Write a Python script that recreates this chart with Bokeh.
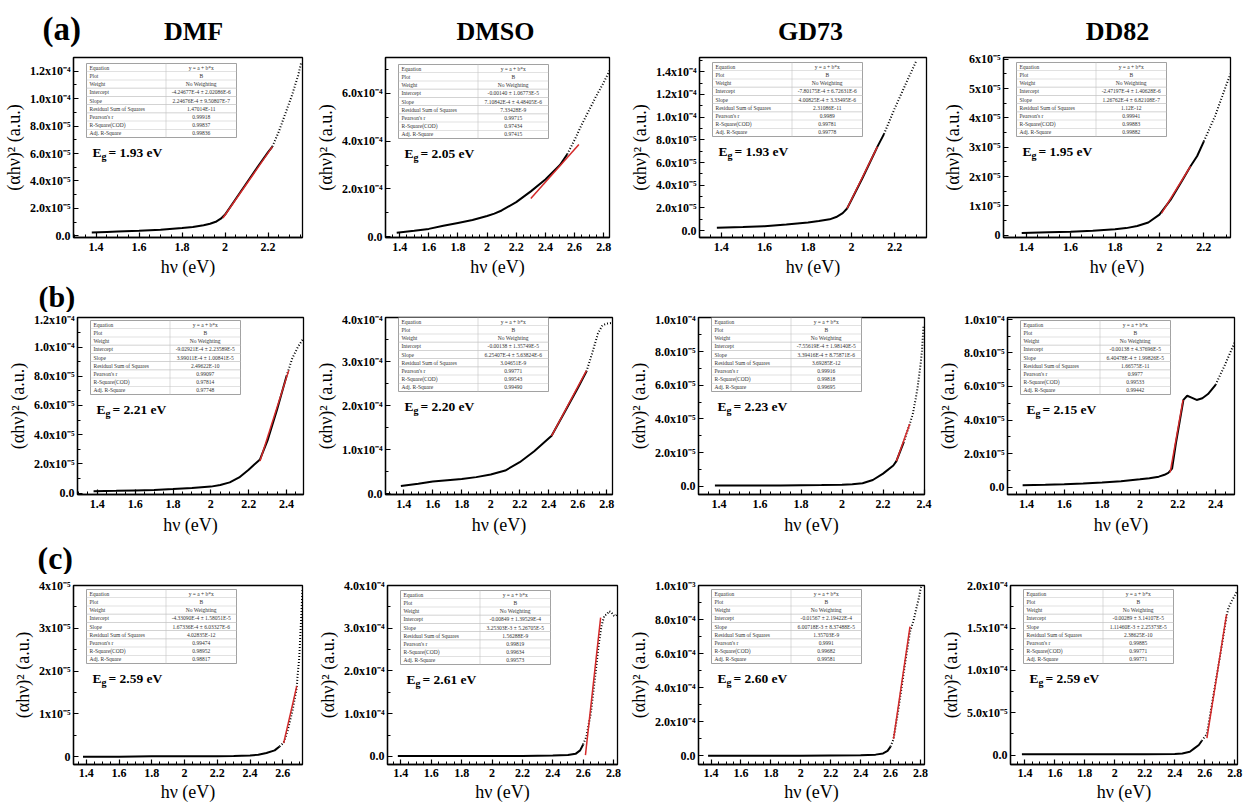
from bokeh.plotting import figure
from bokeh.layouts import column, row
from bokeh.models import (Range1d, FixedTicker, CustomJSTickFormatter, Label,
                          BoxAnnotation, ColumnDataSource)
from bokeh.embed import file_html
from bokeh.resources import INLINE

SERIF = "Liberation Serif"

solvents = ["DMF", "DMSO", "GD73", "DD82"]
panel_tags = ["(a)", "(b)", "(c)"]
x_ticks = [1.4, 1.6, 1.8, 2.0, 2.2, 2.4, 2.6, 2.8]
table_rows = ["Equation", "Plot", "Weight", "Intercept", "Slope",
              "Residual Sum of Squares", "Pearson's r", "R-Square(COD)", "Adj. R-Square"]

# ---------------- row (a) ----------------
a_dmf_x = [1.38, 1.45, 1.50, 1.60, 1.70, 1.80, 1.85, 1.90, 1.93, 1.96, 1.98, 2.00, 2.05, 2.10,
           2.15, 2.20, 2.22, 2.25, 2.28, 2.31, 2.34, 2.355]
a_dmf_y = [2.4e-6, 2.8e-6, 3.1e-6, 3.7e-6, 4.5e-6, 5.7e-6, 6.5e-6, 7.7e-6, 8.8e-6, 1.05e-5,
           1.25e-5, 1.55e-5, 2.70e-5, 3.85e-5, 5.00e-5, 6.10e-5, 6.50e-5, 7.60e-5, 8.90e-5,
           1.02e-4, 1.17e-4, 1.27e-4]
a_dmf_fit_x = [1.99, 2.22]
a_dmf_fit_y = [1.3e-5, 6.5e-5]
a_dmf_yticks = [0, 2e-5, 4e-5, 6e-5, 8e-5, 1.0e-4, 1.2e-4]
a_dmf_table = ["y = a + b*x", "B", "No Weighting", "-4.24677E-4 \u00b1 2.02086E-6",
               "2.24676E-4 \u00b1 9.50807E-7", "1.47014E-11", "0.99918", "0.99837", "0.99836"]

a_dmso_x = [1.38, 1.50, 1.60, 1.70, 1.80, 1.90, 2.00, 2.05, 2.10, 2.20, 2.30, 2.40, 2.50, 2.55,
            2.60, 2.65, 2.70, 2.75, 2.80, 2.84]
a_dmso_y = [1.7e-5, 2.5e-5, 3.3e-5, 4.6e-5, 5.8e-5, 7.0e-5, 8.7e-5, 9.7e-5, 1.10e-4, 1.45e-4,
            1.90e-4, 2.40e-4, 3.00e-4, 3.45e-4, 4.05e-4, 4.70e-4, 5.30e-4, 5.90e-4, 6.45e-4, 6.95e-4]
a_dmso_fit_x = [2.30, 2.63]
a_dmso_fit_y = [1.6e-4, 3.86e-4]
a_dmso_yticks = [0, 2e-4, 4e-4, 6e-4]
a_dmso_table = ["y = a + b*x", "B", "No Weighting", "-0.00140 \u00b1 1.06773E-5",
                "7.10842E-4 \u00b1 4.48405E-6", "7.33428E-9", "0.99715", "0.97434", "0.97415"]

a_gd73_x = [1.38, 1.50, 1.60, 1.70, 1.80, 1.85, 1.90, 1.93, 1.96, 1.98, 2.00, 2.05, 2.10, 2.12,
            2.15, 2.20, 2.25, 2.30]
a_gd73_y = [2.5e-6, 3.2e-6, 4.0e-6, 5.5e-6, 7.3e-6, 8.5e-6, 1.0e-5, 1.2e-5, 1.55e-5, 1.95e-5,
            2.7e-5, 4.6e-5, 6.6e-5, 7.4e-5, 8.5e-5, 1.08e-4, 1.29e-4, 1.50e-4]
a_gd73_fit_x = [1.98, 2.12]
a_gd73_fit_y = [1.95e-5, 7.4e-5]
a_gd73_yticks = [0, 2e-5, 4e-5, 6e-5, 8e-5, 1.0e-4, 1.2e-4, 1.4e-4]
a_gd73_table = ["y = a + b*x", "B", "No Weighting", "-7.80175E-4 \u00b1 6.72631E-6",
                "4.00825E-4 \u00b1 3.33495E-6", "2.31086E-11", "0.9989", "0.99781", "0.99778"]

a_dd82_x = [1.38, 1.50, 1.60, 1.70, 1.80, 1.85, 1.90, 1.95, 2.00, 2.05, 2.10, 2.14, 2.17, 2.20,
            2.25, 2.30, 2.32]
a_dd82_y = [7e-7, 1.0e-6, 1.2e-6, 1.5e-6, 2.0e-6, 2.4e-6, 3.1e-6, 4.3e-6, 7.0e-6, 1.2e-5,
            1.83e-5, 2.35e-5, 2.7e-5, 3.2e-5, 4.05e-5, 5.1e-5, 5.5e-5]
a_dd82_fit_x = [2.01, 2.14]
a_dd82_fit_y = [7.5e-6, 2.35e-5]
a_dd82_yticks = [0, 1e-5, 2e-5, 3e-5, 4e-5, 5e-5, 6e-5]
a_dd82_table = ["y = a + b*x", "B", "No Weighting", "-2.47197E-4 \u00b1 1.40628E-6",
                "1.26762E-4 \u00b1 6.82108E-7", "1.12E-12", "0.99941", "0.99883", "0.99882"]

# ---------------- row (b) ----------------
b_dmf_x = [1.38, 1.50, 1.60, 1.70, 1.80, 1.90, 2.00, 2.05, 2.10, 2.15, 2.20, 2.23, 2.26, 2.30,
           2.35, 2.40, 2.43, 2.46, 2.49]
b_dmf_y = [1.3e-6, 1.5e-6, 1.8e-6, 2.1e-6, 2.7e-6, 3.4e-6, 4.4e-6, 5.5e-6, 7.3e-6, 1.07e-5,
           1.6e-5, 1.95e-5, 2.3e-5, 3.6e-5, 5.7e-5, 8.0e-5, 9.2e-5, 1.0e-4, 1.06e-4]
b_dmf_fit_x = [2.26, 2.412]
b_dmf_fit_y = [2.2e-5, 8.4e-5]
b_dmf_yticks = [0, 2e-5, 4e-5, 6e-5, 8e-5, 1.0e-4, 1.2e-4]
b_dmf_table = ["y = a + b*x", "B", "No Weighting", "-9.02921E-4 \u00b1 2.23589E-5",
               "3.99011E-4 \u00b1 1.00841E-5", "2.49622E-10", "0.99097", "0.97814", "0.97748"]

b_dmso_x = [1.38, 1.50, 1.60, 1.70, 1.80, 1.90, 2.00, 2.10, 2.20, 2.30, 2.42, 2.50, 2.60, 2.66,
            2.70, 2.74, 2.77, 2.80, 2.84]
b_dmso_y = [1.8e-5, 2.3e-5, 2.8e-5, 3.1e-5, 3.4e-5, 3.8e-5, 4.4e-5, 5.3e-5, 7.2e-5, 9.7e-5,
            1.32e-4, 1.80e-4, 2.40e-4, 2.78e-4, 3.20e-4, 3.65e-4, 3.83e-4, 3.87e-4, 3.89e-4]
b_dmso_fit_x = [2.42, 2.66]
b_dmso_fit_y = [1.32e-4, 2.80e-4]
b_dmso_yticks = [0, 1e-4, 2e-4, 3e-4, 4e-4]
b_dmso_table = ["y = a + b*x", "B", "No Weighting", "-0.00138 \u00b1 1.35749E-5",
                "6.25407E-4 \u00b1 5.63824E-6", "3.04651E-9", "0.99771", "0.99543", "0.99490"]

b_gd73_x = [1.38, 1.50, 1.60, 1.70, 1.80, 1.90, 2.00, 2.05, 2.10, 2.15, 2.20, 2.25, 2.265, 2.30,
            2.33, 2.345, 2.357, 2.368, 2.376, 2.384, 2.39, 2.397]
b_gd73_y = [6e-7, 6e-7, 6e-7, 6e-7, 7e-7, 8e-7, 1.0e-6, 1.3e-6, 1.9e-6, 3.8e-6, 7.6e-6, 1.24e-5,
            1.5e-5, 2.6e-5, 3.7e-5, 4.3e-5, 5.07e-5, 5.83e-5, 6.6e-5, 7.36e-5, 8.1e-5, 9.5e-5]
b_gd73_fit_x = [2.265, 2.33]
b_gd73_fit_y = [1.5e-5, 3.7e-5]
b_gd73_yticks = [0, 2e-5, 4e-5, 6e-5, 8e-5, 1.0e-4]
b_gd73_table = ["y = a + b*x", "B", "No Weighting", "-7.55619E-4 \u00b1 1.98140E-5",
                "3.39416E-4 \u00b1 8.75871E-6", "3.69285E-12", "0.99916", "0.99818", "0.99695"]

b_dd82_x = [1.38, 1.50, 1.60, 1.70, 1.80, 1.90, 2.00, 2.05, 2.10, 2.13, 2.15, 2.17, 2.19, 2.21,
            2.23, 2.25, 2.27, 2.30, 2.33, 2.36, 2.40, 2.45, 2.50]
b_dd82_y = [1.3e-6, 1.6e-6, 1.9e-6, 2.3e-6, 2.9e-6, 3.7e-6, 4.8e-6, 5.5e-6, 6.4e-6, 7.5e-6,
            8.7e-6, 1.12e-5, 2.6e-5, 3.9e-5, 5.2e-5, 5.45e-5, 5.35e-5, 5.2e-5, 5.3e-5, 5.55e-5,
            6.1e-5, 7.3e-5, 8.6e-5]
b_dd82_fit_x = [2.16, 2.228]
b_dd82_fit_y = [9e-6, 5.2e-5]
b_dd82_yticks = [0, 2e-5, 4e-5, 6e-5, 8e-5, 1.0e-4]
b_dd82_table = ["y = a + b*x", "B", "No Weighting", "-0.00138 \u00b1 4.37696E-5",
                "6.40478E-4 \u00b1 1.99826E-5", "1.66575E-11", "0.9977", "0.99533", "0.99442"]

# ---------------- row (c) ----------------
c_dmf_x = [1.38, 1.60, 1.80, 2.00, 2.20, 2.30, 2.40, 2.45, 2.50, 2.55, 2.58, 2.605, 2.63, 2.66,
           2.685, 2.69, 2.70, 2.705, 2.71, 2.715, 2.72]
c_dmf_y = [0.0, 0.0, 1e-7, 1e-7, 1.5e-7, 2e-7, 3e-7, 5e-7, 9e-7, 1.5e-6, 2.4e-6, 3.3e-6, 6.2e-6,
           1.1e-5, 1.62e-5, 1.9e-5, 2.3e-5, 2.7e-5, 3.1e-5, 3.5e-5, 3.95e-5]
c_dmf_fit_x = [2.605, 2.685]
c_dmf_fit_y = [3.2e-6, 1.65e-5]
c_dmf_yticks = [0, 1e-5, 2e-5, 3e-5, 4e-5]
c_dmf_table = ["y = a + b*x", "B", "No Weighting", "-4.33090E-4 \u00b1 1.58051E-5",
               "1.67336E-4 \u00b1 6.03327E-6", "4.02835E-12", "0.99474", "0.98952", "0.98817"]

c_dmso_x = [1.38, 1.60, 1.80, 2.00, 2.20, 2.40, 2.50, 2.55, 2.58, 2.60, 2.62, 2.65, 2.68, 2.70,
            2.72, 2.74, 2.755, 2.77, 2.785, 2.80, 2.81, 2.826]
c_dmso_y = [1e-6, 1e-6, 1e-6, 1e-6, 1e-6, 2e-6, 3e-6, 6e-6, 1.4e-5, 2.8e-5, 4.5e-5, 1.0e-4,
            1.9e-4, 2.55e-4, 3.05e-4, 3.30e-4, 3.32e-4, 3.40e-4, 3.38e-4, 3.30e-4, 3.28e-4, 3.33e-4]
c_dmso_fit_x = [2.615, 2.715]
c_dmso_fit_y = [3e-6, 3.25e-4]
c_dmso_yticks = [0, 1e-4, 2e-4, 3e-4, 4e-4]
c_dmso_table = ["y = a + b*x", "B", "No Weighting", "-0.00849 \u00b1 1.39529E-4",
                "3.25303E-3 \u00b1 5.26705E-5", "1.56288E-9", "0.99819", "0.99634", "0.99573"]

c_gd73_x = [1.38, 1.60, 1.80, 2.00, 2.20, 2.40, 2.50, 2.55, 2.58, 2.60, 2.62, 2.65, 2.68, 2.70,
            2.73, 2.755, 2.773, 2.79, 2.80, 2.81]
c_gd73_y = [2e-6, 2e-6, 2e-6, 2e-6, 3e-6, 4e-6, 8e-6, 1.5e-5, 3.0e-5, 5.5e-5, 1.0e-4, 2.6e-4,
            4.4e-4, 5.6e-4, 7.3e-4, 8.0e-4, 8.7e-4, 9.3e-4, 9.8e-4, 1.01e-3]
c_gd73_fit_x = [2.62, 2.73]
c_gd73_fit_y = [1.0e-4, 7.6e-4]
c_gd73_yticks = [0, 2e-4, 4e-4, 6e-4, 8e-4, 1e-3]
c_gd73_table = ["y = a + b*x", "B", "No Weighting", "-0.01567 \u00b1 2.19422E-4",
                "6.00718E-3 \u00b1 8.37488E-5", "1.35703E-9", "0.9991", "0.99682", "0.99581"]

c_dd82_x = [1.38, 1.60, 1.80, 2.00, 2.20, 2.40, 2.45, 2.50, 2.53, 2.56, 2.58, 2.60, 2.614, 2.65,
            2.70, 2.745, 2.758, 2.774, 2.796, 2.814]
c_dd82_y = [1e-6, 1e-6, 1e-6, 1e-6, 1e-6, 1.5e-6, 2e-6, 4e-6, 8e-6, 1.2e-5, 1.7e-5, 2.2e-5,
            2.5e-5, 6.3e-5, 1.15e-4, 1.64e-4, 1.74e-4, 1.80e-4, 1.87e-4, 1.93e-4]
c_dd82_fit_x = [2.614, 2.745]
c_dd82_fit_y = [2.0e-5, 1.66e-4]
c_dd82_yticks = [0, 5e-5, 1e-4, 1.5e-4, 2e-4]
c_dd82_table = ["y = a + b*x", "B", "No Weighting", "-0.00289 \u00b1 3.14107E-5",
                "1.11460E-3 \u00b1 2.25373E-5", "2.38625E-10", "0.99885", "0.99771", "0.99771"]

band_gaps = [["1.93", "2.05", "1.93", "1.95"],
             ["2.21", "2.20", "2.23", "2.15"],
             ["2.59", "2.61", "2.60", "2.59"]]

# axis extents and label precision
panels = [
    [dict(x=a_dmf_x, y=a_dmf_y, fx=a_dmf_fit_x, fy=a_dmf_fit_y, yt=a_dmf_yticks, tab=a_dmf_table,
          xr=(1.295, 2.36), yr=(-1.2e-6, 1.30e-4), dig=1, dot=2.22),
     dict(x=a_dmso_x, y=a_dmso_y, fx=a_dmso_fit_x, fy=a_dmso_fit_y, yt=a_dmso_yticks, tab=a_dmso_table,
          xr=(1.303, 2.84), yr=(-3e-6, 7.5e-4), dig=1, dot=2.55),
     dict(x=a_gd73_x, y=a_gd73_y, fx=a_gd73_fit_x, fy=a_gd73_fit_y, yt=a_gd73_yticks, tab=a_gd73_table,
          xr=(1.30, 2.346), yr=(-6e-6, 1.525e-4), dig=1, dot=2.15),
     dict(x=a_dd82_x, y=a_dd82_y, fx=a_dd82_fit_x, fy=a_dd82_fit_y, yt=a_dd82_yticks, tab=a_dd82_table,
          xr=(1.298, 2.32), yr=(-0.8e-6, 6.06e-5), dig=0, dot=2.20)],
    [dict(x=b_dmf_x, y=b_dmf_y, fx=b_dmf_fit_x, fy=b_dmf_fit_y, yt=b_dmf_yticks, tab=b_dmf_table,
          xr=(1.295, 2.49), yr=(-1e-6, 1.202e-4), dig=1, dot=2.40),
     dict(x=b_dmso_x, y=b_dmso_y, fx=b_dmso_fit_x, fy=b_dmso_fit_y, yt=b_dmso_yticks, tab=b_dmso_table,
          xr=(1.274, 2.84), yr=(-1.5e-6, 4.01e-4), dig=1, dot=2.66),
     dict(x=b_gd73_x, y=b_gd73_y, fx=b_gd73_fit_x, fy=b_gd73_fit_y, yt=b_gd73_yticks, tab=b_gd73_table,
          xr=(1.30, 2.402), yr=(-4.8e-6, 1.002e-4), dig=1, dot=2.30),
     dict(x=b_dd82_x, y=b_dd82_y, fx=b_dd82_fit_x, fy=b_dd82_fit_y, yt=b_dd82_yticks, tab=b_dd82_table,
          xr=(1.30, 2.50), yr=(-4.2e-6, 1.01e-4), dig=1, dot=2.40)],
    [dict(x=c_dmf_x, y=c_dmf_y, fx=c_dmf_fit_x, fy=c_dmf_fit_y, yt=c_dmf_yticks, tab=c_dmf_table,
          xr=(1.322, 2.72), yr=(-1.8e-6, 4.002e-5), dig=0, dot=2.58),
     dict(x=c_dmso_x, y=c_dmso_y, fx=c_dmso_fit_x, fy=c_dmso_fit_y, yt=c_dmso_yticks, tab=c_dmso_table,
          xr=(1.312, 2.826), yr=(-1.9e-5, 4.002e-4), dig=1, dot=2.60),
     dict(x=c_gd73_x, y=c_gd73_y, fx=c_gd73_fit_x, fy=c_gd73_fit_y, yt=c_gd73_yticks, tab=c_gd73_table,
          xr=(1.316, 2.827), yr=(-5e-5, 1.002e-3), dig=1, dot=2.60),
     dict(x=c_dd82_x, y=c_dd82_y, fx=c_dd82_fit_x, fy=c_dd82_fit_y, yt=c_dd82_yticks, tab=c_dd82_table,
          xr=(1.304, 2.818), yr=(-1.1e-5, 2.002e-4), dig=1, dot=2.58)],
]

# ---------------- layout geometry (page pixels; the page has no margin) ----------------
col_edges = [0, 312, 625, 933, 1244]
strip_edges = [(0, 50), (279, 312), (540, 574)]
row_edges = [(50, 279), (312, 540), (574, 805)]
frames = [
    [(72, 302, 57, 238), (382, 609, 57, 237), (699, 926, 56, 238), (1003, 1230, 56, 238)],
    [(77, 303, 317, 498), (383, 612, 313, 497), (697, 924, 313, 497), (1007, 1234, 313, 494)],
    [(73, 302, 582, 764), (387, 617, 585, 766), (697, 924, 585, 767), (1010, 1237, 585, 767)],
]
tag_xy = [(42, 28), (38, 295.5), (37, 557)]      # page x of left edge, page y of text middle
tag_size = ["33px", "30px", "32px"]
title_xy = [(193, 31), (495, 31), (810, 31), (1117, 31)]
x_std = [(5, 3), (5, 4), (4, 2)]                 # x tick-label / axis-label standoffs per row

YFMT = r"""
const t = tick;
if (Math.abs(t) < 1e-15) { return digits > 0 ? (0).toFixed(digits) : "0"; }
const sup = {"-": "\u207B", "0": "\u2070", "1": "\u00B9", "2": "\u00B2", "3": "\u00B3",
             "4": "\u2074", "5": "\u2075", "6": "\u2076", "7": "\u2077", "8": "\u2078", "9": "\u2079"};
const e = Math.floor(Math.log10(Math.abs(t)) + 1e-9);
const m = t / Math.pow(10, e);
let s = "";
for (const c of String(e)) { s += sup[c]; }
return m.toFixed(digits) + "x10" + s;
"""


def slabel(p, x, y, text, size, bold=False, align="left", baseline="alphabetic", color="black"):
    p.add_layout(Label(x=x, y=y, x_units="screen", y_units="screen", text=text,
                       text_font=SERIF, text_font_size=size,
                       text_font_style="bold" if bold else "normal",
                       text_align=align, text_baseline=baseline, text_color=color))


def sbox(p, l, r, t, b, fill, line=None, lw=0.8):
    p.add_layout(BoxAnnotation(left=l, right=r, top=t, bottom=b,
                               left_units="screen", right_units="screen",
                               top_units="screen", bottom_units="screen",
                               fill_color=fill, fill_alpha=1.0,
                               line_color=line if line else fill,
                               line_alpha=1.0 if line else 0.0, line_width=lw))


def add_table(p, fh, vals):
    x0, w, h = 13, 150, 74
    ytop = fh - 7
    ybot = ytop - h
    sbox(p, x0, x0 + w, ytop, ybot, "white", "#8a8a8a", 0.8)
    rh = h / len(table_rows)
    xdiv = x0 + 0.53 * w
    for i in range(1, len(table_rows)):
        yy = ytop - i * rh
        sbox(p, x0, x0 + w, yy + 0.3, yy - 0.3, "#c4c4c4")
    sbox(p, xdiv - 0.3, xdiv + 0.3, ytop, ybot, "#c4c4c4")
    for i, (name, val) in enumerate(zip(table_rows, vals)):
        yc = ytop - (i + 0.5) * rh
        slabel(p, x0 + 3, yc, name, "5.5px", baseline="middle", color="#333333")
        slabel(p, (xdiv + x0 + w) / 2, yc, val, "5.5px", align="center", baseline="middle",
               color="#333333")


def header_strip(r):
    top, bot = strip_edges[r]
    h = bot - top
    s = figure(width=col_edges[-1] - col_edges[0], height=h,
               x_range=Range1d(0, 1), y_range=Range1d(0, 1),
               x_axis_type=None, y_axis_type=None, output_backend="svg", toolbar_location=None,
               title=None, min_border=0, min_border_left=0, min_border_right=0,
               min_border_top=0, min_border_bottom=0)
    s.outline_line_color = None
    s.background_fill_color = "white"
    s.border_fill_color = "white"
    s.xgrid.visible = False
    s.ygrid.visible = False
    tx, ty = tag_xy[r]
    slabel(s, tx - col_edges[0], bot - ty, panel_tags[r], tag_size[r], bold=True, baseline="middle")
    if r == 0:
        for name, (cx, my) in zip(solvents, title_xy):
            slabel(s, cx - col_edges[0], bot - my, name, "26px", bold=True, align="center",
                   baseline="middle")
    return s


def build(r, c):
    d = panels[r][c]
    fl, fr, ft, fb = frames[r][c]
    rt, rb = row_edges[r]
    W = col_edges[c + 1] - col_edges[c]
    H = rb - rt
    fw, fh = fr - fl, fb - ft
    p = figure(width=W, height=H, x_range=Range1d(*d["xr"]), y_range=Range1d(*d["yr"]),
               output_backend="svg", toolbar_location=None, title=None,
               min_border_left=fl - col_edges[c], min_border_right=col_edges[c + 1] - fr,
               min_border_top=ft - rt, min_border_bottom=rb - fb,
               x_axis_label="h\u03bd (eV)", y_axis_label="(\u03b1h\u03bd)\u00b2 (a.u.)")
    p.background_fill_color = "white"
    p.border_fill_color = "white"
    p.xgrid.visible = False
    p.ygrid.visible = False
    p.outline_line_color = "black"
    p.outline_line_width = 1.3
    p.outline_line_alpha = 1.0

    yt = d["yt"]
    step = yt[1] - yt[0]
    p.xaxis.ticker = FixedTicker(ticks=x_ticks,
                                 minor_ticks=[round(1.25 + 0.05 * i, 2) for i in range(33)])
    p.yaxis.ticker = FixedTicker(ticks=yt, minor_ticks=[v + step / 2 for v in yt] + [yt[0] - step / 2])
    p.yaxis.formatter = CustomJSTickFormatter(args=dict(digits=d["dig"]), code=YFMT)
    for ax in (p.xaxis[0], p.yaxis[0]):
        ax.major_tick_in = 5
        ax.major_tick_out = 0
        ax.minor_tick_in = 3
        ax.minor_tick_out = 0
        ax.axis_line_width = 1.3
        ax.axis_line_color = "black"
        ax.major_tick_line_color = "black"
        ax.minor_tick_line_color = "black"
        ax.major_tick_line_width = 1.2
        ax.major_label_text_font = SERIF
        ax.major_label_text_font_style = "bold"
        ax.major_label_text_font_size = "12px"
        ax.major_label_text_color = "black"
        ax.axis_label_text_font = SERIF
        ax.axis_label_text_font_style = "normal"
        ax.axis_label_text_font_size = "18px"
        ax.axis_label_text_color = "black"
    p.yaxis.major_label_standoff = 3
    p.yaxis.axis_label_standoff = 3
    p.xaxis.major_label_standoff = x_std[r][0]
    p.xaxis.axis_label_standoff = x_std[r][1]

    xs, ys, dot = d["x"], d["y"], d["dot"]
    solid = ColumnDataSource(dict(x=[a for a in xs if a <= dot],
                                  y=[b for a, b in zip(xs, ys) if a <= dot]))
    tail = ColumnDataSource(dict(x=[a for a in xs if a >= dot],
                                 y=[b for a, b in zip(xs, ys) if a >= dot]))
    p.line("x", "y", source=solid, line_color="black", line_width=2.0)
    p.line("x", "y", source=tail, line_color="black", line_width=2.0, line_dash="1 2")
    p.line(d["fx"], d["fy"], line_color="#d42a2a", line_width=1.5)

    add_table(p, fh, d["tab"])

    yb = fh - 96
    slabel(p, 19, yb, "E", "13.5px", bold=True)
    slabel(p, 28, yb - 4, "g", "10px", bold=True)
    slabel(p, 35, yb, "= " + band_gaps[r][c] + " eV", "13.5px", bold=True)
    return p


items = []
for r in range(3):
    items.append(header_strip(r))
    items.append(row(*[build(r, c) for c in range(4)]))
layout = column(*items)

html = file_html(layout, INLINE, "Tauc plots")
with open("out.html", "w", encoding="utf-8") as f:
    f.write(html)
